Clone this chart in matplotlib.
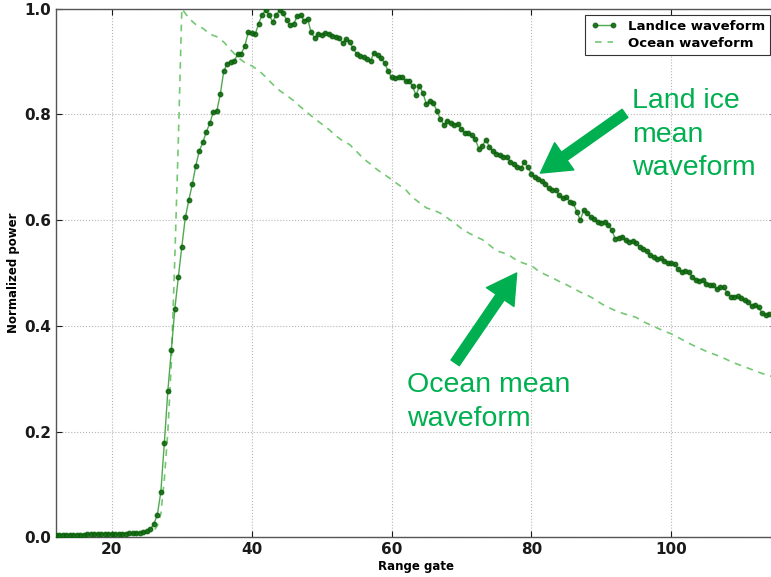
import numpy as np
import matplotlib.pyplot as plt

# ---- Data ----
# land ice waveform sampled every half range gate, 12.0 ... 114.5
landice_gate = np.arange(12.0, 114.75, 0.5)
landice_power = [
    0.005, 0.005, 0.005, 0.005, 0.005, 0.005, 0.005, 0.005, 0.005, 0.006,
    0.006, 0.006, 0.006, 0.006, 0.007, 0.007, 0.007, 0.007, 0.007, 0.007,
    0.007, 0.008, 0.008, 0.008, 0.009, 0.010, 0.011, 0.015,
    0.025, 0.043, 0.086, 0.179, 0.277, 0.354, 0.432, 0.492, 0.550, 0.605,
    0.638, 0.668, 0.703, 0.731, 0.747, 0.767, 0.783, 0.805, 0.806, 0.838,
    0.882, 0.896, 0.899, 0.901, 0.914, 0.915, 0.929, 0.955, 0.954, 0.952,
    0.972, 0.989, 0.997, 0.988, 0.975, 0.988, 0.997, 0.992, 0.978, 0.969,
    0.971, 0.986, 0.988, 0.977, 0.981, 0.955, 0.945, 0.953, 0.950, 0.954,
    0.953, 0.948, 0.947, 0.944, 0.935, 0.942, 0.937, 0.925, 0.915, 0.910,
    0.909, 0.904, 0.901, 0.917, 0.912, 0.906, 0.898, 0.882, 0.870, 0.868,
    0.870, 0.871, 0.864, 0.863, 0.854, 0.836, 0.854, 0.840, 0.819, 0.825,
    0.821, 0.806, 0.791, 0.780, 0.788, 0.784, 0.780, 0.782, 0.772, 0.765,
    0.764, 0.761, 0.753, 0.734, 0.741, 0.752, 0.739, 0.731, 0.726, 0.723,
    0.720, 0.719, 0.710, 0.706, 0.700, 0.698, 0.710, 0.700, 0.688, 0.682,
    0.677, 0.674, 0.668, 0.660, 0.657, 0.657, 0.647, 0.641, 0.644, 0.635,
    0.632, 0.616, 0.600, 0.619, 0.614, 0.605, 0.603, 0.597, 0.595, 0.597,
    0.591, 0.581, 0.565, 0.567, 0.569, 0.562, 0.559, 0.561, 0.557, 0.550,
    0.545, 0.542, 0.534, 0.531, 0.526, 0.528, 0.523, 0.518, 0.518, 0.517,
    0.507, 0.502, 0.504, 0.502, 0.493, 0.487, 0.485, 0.487, 0.479, 0.477,
    0.477, 0.469, 0.473, 0.473, 0.463, 0.455, 0.455, 0.456, 0.452, 0.449,
    0.446, 0.437, 0.439, 0.436, 0.424, 0.420, 0.422, 0.421,
]

ocean_gate = (list(range(12, 26))
              + [26, 26.5, 27, 27.5, 28, 28.5, 29, 29.5]
              + list(range(30, 116)))
ocean_power = [
    0.005, 0.005, 0.005, 0.005, 0.005, 0.005, 0.005, 0.005, 0.005, 0.005,
    0.006, 0.006, 0.007, 0.008,
    0.012, 0.022, 0.045, 0.110, 0.200, 0.330, 0.530, 0.750,
    1.000, 0.982, 0.970, 0.963, 0.952, 0.947, 0.937, 0.922, 0.908, 0.898,
    0.892, 0.883, 0.871, 0.857, 0.845, 0.836, 0.826, 0.814, 0.803, 0.792,
    0.782, 0.772, 0.760, 0.750, 0.743, 0.730, 0.716, 0.706, 0.695, 0.686,
    0.677, 0.667, 0.658, 0.643, 0.633, 0.623, 0.619, 0.613, 0.604, 0.595,
    0.584, 0.576, 0.569, 0.563, 0.553, 0.542, 0.538, 0.532, 0.523, 0.518,
    0.514, 0.504, 0.497, 0.491, 0.484, 0.478, 0.471, 0.464, 0.458, 0.451,
    0.442, 0.435, 0.429, 0.424, 0.420, 0.416, 0.408, 0.402, 0.396, 0.390,
    0.385, 0.378, 0.371, 0.364, 0.358, 0.352, 0.347, 0.342, 0.336, 0.330,
    0.325, 0.320, 0.315, 0.310, 0.306, 0.302,
]

xticks = [20, 40, 60, 80, 100]
yticks = [0.0, 0.2, 0.4, 0.6, 0.8, 1.0]

plt.rcParams.update({
    "font.family": "DejaVu Sans",
    "font.weight": "bold",
    "axes.labelweight": "bold",
    "xtick.direction": "in",
    "ytick.direction": "in",
    "xtick.top": True,
    "ytick.right": True,
})

fig = plt.figure(figsize=(7.71, 5.77), dpi=100)
ax = fig.add_axes([56 / 771, 39.7 / 577, 720 / 771, 528.6 / 577])

ax.plot(landice_gate, landice_power, color="#339933", lw=1.0, alpha=0.85,
        marker="o", ms=3.2, mfc="#0b630b", mec="#0b630b",
        label="LandIce waveform", zorder=3)
ax.plot(ocean_gate, ocean_power, color="#74c874", lw=1.2, ls="--",
        dashes=(4, 3.5), label="Ocean waveform", zorder=2)

ax.set_xlim(12, 115)
ax.set_ylim(0, 1.0)
ax.set_xticks(xticks)
ax.set_yticks(yticks)
ax.set_yticklabels([f"{v:.1f}" for v in yticks])
ax.tick_params(labelsize=11, length=4, width=0.8, colors="#1a1a1a")
ax.grid(True, color="#b5b5b5", ls=":", lw=0.8)
for sp in ax.spines.values():
    sp.set_color("#555555")
    sp.set_linewidth(1.0)

ax.set_xlabel("Range gate", fontsize=8.5, labelpad=2)
ax.set_ylabel("Normalized power", fontsize=8.5, labelpad=3)

leg = ax.legend(loc="upper right", fontsize=9.5, numpoints=2, fancybox=False,
                edgecolor="#333333", framealpha=1, borderaxespad=0.45,
                handlelength=2.0, borderpad=0.4, labelspacing=0.3)
leg.get_frame().set_linewidth(0.8)
for t in leg.get_texts():
    t.set_fontweight("bold")

# ---- Annotations ----
note_green = "#00b050"
arrow_style = "simple,head_width=1.2,head_length=1.05,tail_width=0.36"

ax.annotate("", xy=(81.3, 0.689), xytext=(93.4, 0.802),
            arrowprops=dict(arrowstyle=arrow_style, color=note_green,
                            mutation_scale=20, shrinkA=0, shrinkB=0))
ax.text(94.4, 0.762, "Land ice\nmean\nwaveform", color=note_green,
        fontsize=20.5, family="Liberation Sans", fontweight="normal",
        ha="left", va="center", linespacing=1.38)

ax.annotate("", xy=(77.9, 0.500), xytext=(69.1, 0.330),
            arrowprops=dict(arrowstyle=arrow_style, color=note_green,
                            mutation_scale=20, shrinkA=0, shrinkB=0))
ax.text(62.2, 0.256, "Ocean mean\nwaveform", color=note_green,
        fontsize=20.5, family="Liberation Sans", fontweight="normal",
        ha="left", va="center", linespacing=1.38)

fig.savefig("out.png", dpi=100)
